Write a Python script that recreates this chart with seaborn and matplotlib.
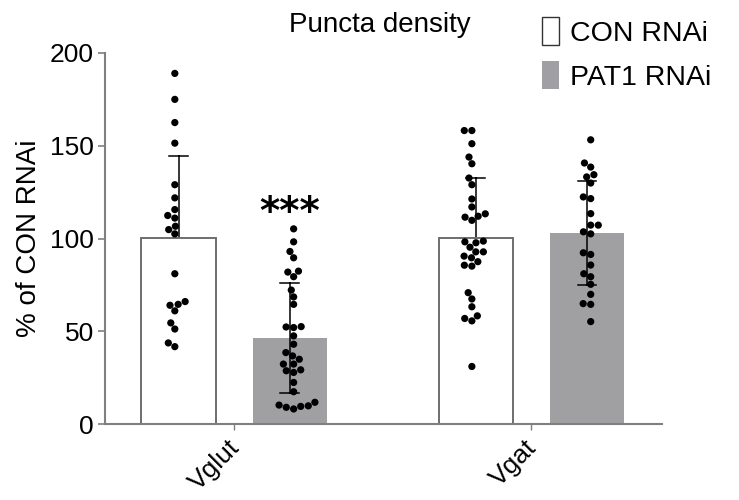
import pandas as pd
import numpy as np
import matplotlib
matplotlib.use("Agg")
import matplotlib.pyplot as plt
import matplotlib.transforms as mtransforms
from matplotlib.patches import Patch
import seaborn as sns

# values (% of CON RNAi)
vglut_con = [189, 175, 162.5, 151.4, 129, 121.9, 115.6, 112.4, 111, 106.6, 104.8,
             102.5, 81, 66, 64.5, 64, 61, 54.5, 51.2, 43.7, 41.7]
vglut_pat1 = [105.2, 98.2, 93, 89.6, 82.4, 81.9, 79.4, 72.2, 68.5, 64.5, 52.3, 52,
              52.5, 47.5, 43, 38.5, 36.7, 34.9, 32.3, 32.3, 28.7, 27.8, 29.2, 22.4,
              17.4, 10.2, 9.5, 8.1, 9, 9.8, 11.7]
vgat_con = [158.2, 158.2, 151.1, 143.9, 140.3, 132.6, 129, 121.3, 117, 113.3, 111.5,
            109.8, 112, 98.6, 97.7, 98.2, 95.3, 92.8, 90.5, 92.8, 89.6, 87.5, 85.1,
            85.6, 70.8, 67.4, 63.2, 56.9, 55.6, 58.3, 31]
vgat_pat1 = [153.2, 140.7, 138.5, 134.4, 133.2, 129.9, 122.4, 121.5, 113.4, 107.2,
             107.2, 103.6, 102.5, 92.3, 91.4, 85.7, 81, 79.4, 75.3, 69.9, 64.9, 64.5,
             55.2]

markers = ["Vglut", "Vgat"]
groups = ["CON RNAi", "PAT1 RNAi"]
bar_colors = ["white", "#a09fa4"]

rows = []
for m, g, vals in [("Vglut", "CON RNAi", vglut_con), ("Vglut", "PAT1 RNAi", vglut_pat1),
                   ("Vgat", "CON RNAi", vgat_con), ("Vgat", "PAT1 RNAi", vgat_pat1)]:
    for v in vals:
        rows.append({"marker": m, "group": g, "value": v})
df = pd.DataFrame(rows)

plt.rcParams["font.family"] = ["Liberation Sans", "DejaVu Sans"]

fig = plt.figure(figsize=(7.39, 5.0), dpi=100)
ax = fig.add_axes([0.1421, 0.152, 0.7537, 0.742])

sns.barplot(data=df, x="marker", y="value", hue="group", order=markers,
            hue_order=groups, palette=bar_colors, errorbar="sd", capsize=0.125,
            width=0.748, gap=0.33, err_kws={"color": "black", "linewidth": 1.1},
            legend=False, ax=ax)

con_x = []
for p in ax.patches:
    if p.get_facecolor()[0] > 0.9:
        p.set_edgecolor("#6e6e6e")
        p.set_linewidth(1.4)
        con_x.append(p.get_x() + p.get_width() / 2)
    else:
        p.set_edgecolor("none")

# white bars hide the lower half of their error bars
for ln in ax.lines:
    xd = np.asarray(ln.get_xdata(), dtype=float)
    if len(xd) and any(abs(np.nanmean(xd) - cx) < 0.05 for cx in con_x):
        ln.set_zorder(0.5)

sns.swarmplot(data=df, x="marker", y="value", hue="group", order=markers,
              hue_order=groups, palette=["black", "black"], dodge=True, size=5.2,
              linewidth=0, legend=False, ax=ax, zorder=3)

ax.set_xlim(-0.435, 1.44)
ax.set_ylim(0, 200)
ax.set_yticks([0, 50, 100, 150, 200])
ax.set_xlabel("")
ax.set_ylabel("% of CON RNAi", fontsize=20, labelpad=6)
ax.tick_params(axis="y", labelsize=19, length=5, width=1.2, color="#7f7f7f", pad=3)
ax.tick_params(axis="x", labelsize=19, length=4, width=1, color="#7f7f7f", pad=2)
shift = mtransforms.ScaledTranslation(0.1, -0.03, fig.dpi_scale_trans)
for lab in ax.get_xticklabels():
    lab.set_rotation(45)
    lab.set_ha("right")
    lab.set_transform(lab.get_transform() + shift)
for s in ["top", "right"]:
    ax.spines[s].set_visible(False)
for s in ["left", "bottom"]:
    ax.spines[s].set_color("#7f7f7f")
    ax.spines[s].set_linewidth(1.5)

# significance stars over PAT1 Vglut bar
pat_bar = [p for p in ax.patches if p.get_facecolor()[0] < 0.9][0]
ax.text(pat_bar.get_x() + pat_bar.get_width() / 2, 114, "***", ha="center",
        va="center", fontsize=28, fontweight="bold", family="DejaVu Sans")

fig.text(0.514, 0.95, "Puncta density", ha="center", va="center", fontsize=20)
handles = [Patch(facecolor="white", edgecolor="#333333", linewidth=1),
           Patch(facecolor="#a09fa4", edgecolor="none")]
fig.legend(handles, groups, loc="upper left", bbox_to_anchor=(0.71, 1.0),
           frameon=False, fontsize=20.5, handlelength=0.6, handleheight=1.15,
           handletextpad=0.4, labelspacing=0.5, borderaxespad=0.2)

fig.savefig("out.png", dpi=100)
